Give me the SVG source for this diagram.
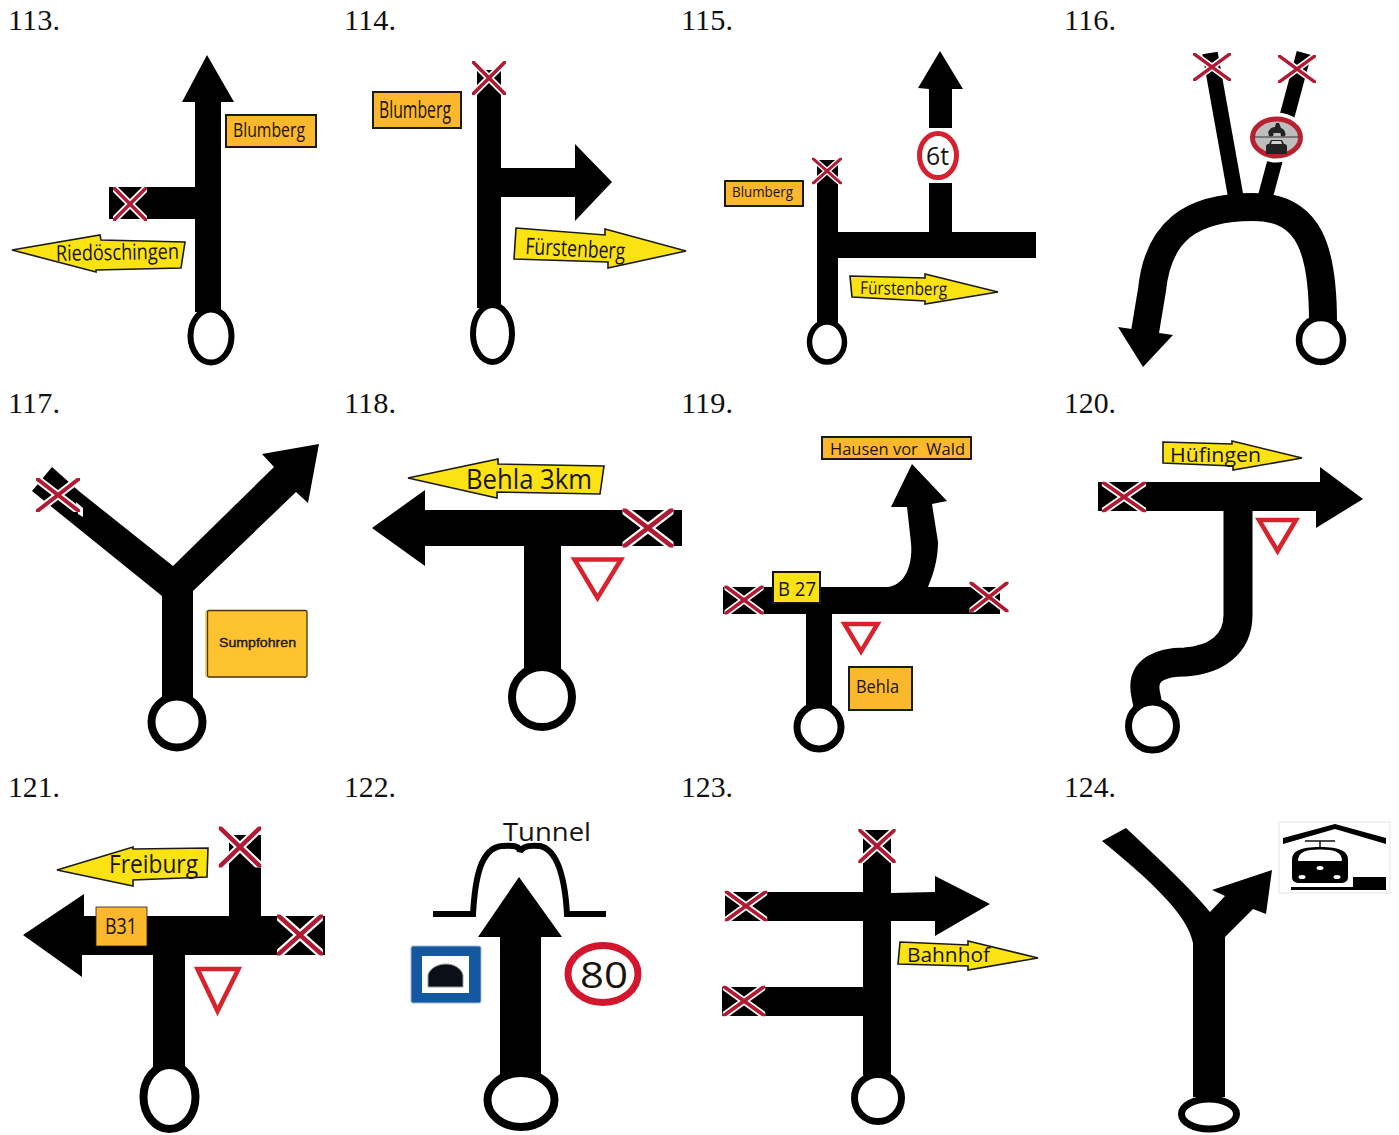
<svg xmlns="http://www.w3.org/2000/svg" width="1399" height="1135" viewBox="0 0 1399 1135">
<style>
.num{font-family:"Liberation Serif","Times New Roman",serif;font-size:30px;fill:#111}
.t{font-family:"Open Sans","Liberation Sans",sans-serif;fill:#1a1410}
.r{fill:#000;stroke:none}
.rl{fill:none;stroke:#000;stroke-linecap:butt}
.ring{fill:#fff;stroke:#000}
.o{fill:#fbb82c;stroke:#1a1a1a;stroke-width:2}
.y{fill:#fbe313;stroke:#1a1a1a;stroke-width:1.6}
.yield{fill:#fff;stroke:#d8222c;stroke-width:4.500;stroke-linejoin:miter}
</style>
<defs>
<clipPath id="xc"><rect x="-17" y="-17" width="34" height="34"/></clipPath>
<g id="x" clip-path="url(#xc)">
<path d="M-21,-21L21,21M21,-21L-21,21" stroke="#fff" stroke-width="7" fill="none"/>
<path d="M-21,-21L21,21M21,-21L-21,21" stroke="#b01a33" stroke-width="3.600" fill="none"/>
</g>
</defs>
<rect width="1399" height="1135" fill="#fff"/>

<g id="labels">
<text class="num" x="8" y="30" textLength="52" lengthAdjust="spacingAndGlyphs">113.</text>
<text class="num" x="344" y="30" textLength="52" lengthAdjust="spacingAndGlyphs">114.</text>
<text class="num" x="681" y="30" textLength="52" lengthAdjust="spacingAndGlyphs">115.</text>
<text class="num" x="1064" y="30" textLength="52" lengthAdjust="spacingAndGlyphs">116.</text>
<text class="num" x="8" y="413" textLength="52" lengthAdjust="spacingAndGlyphs">117.</text>
<text class="num" x="344" y="413" textLength="52" lengthAdjust="spacingAndGlyphs">118.</text>
<text class="num" x="681" y="413" textLength="52" lengthAdjust="spacingAndGlyphs">119.</text>
<text class="num" x="1064" y="413" textLength="52" lengthAdjust="spacingAndGlyphs">120.</text>
<text class="num" x="8" y="797" textLength="52" lengthAdjust="spacingAndGlyphs">121.</text>
<text class="num" x="344" y="797" textLength="52" lengthAdjust="spacingAndGlyphs">122.</text>
<text class="num" x="681" y="797" textLength="52" lengthAdjust="spacingAndGlyphs">123.</text>
<text class="num" x="1064" y="797" textLength="52" lengthAdjust="spacingAndGlyphs">124.</text>
</g>

<g id="fig113">
<polygon class="r" points="207,55 234,102 221,102 221,312 195,312 195,219 109,219 109,187 195,187 195,102 182,102"/>
<ellipse class="ring" cx="211" cy="336" rx="20.500" ry="26.500" stroke-width="6"/>
<use href="#x" transform="translate(130,204)"/>
<rect class="o" x="226" y="115" width="90" height="32"/>
<text class="t" x="233" y="137" font-size="20" textLength="72" lengthAdjust="spacingAndGlyphs">Blumberg</text>
<polygon class="y" points="12,250 100,235 101,240 185,242 181,268 96,270 96,272"/>
<text class="t" x="56" y="261" font-size="22" textLength="123" lengthAdjust="spacingAndGlyphs" transform="rotate(-1 56 261)">Riedöschingen</text>
</g>

<g id="fig114">
<polygon class="r" points="477,70 501,70 501,168 575,168 575,144 612,182 575,221 575,197 501,197 501,308 477,308"/>
<ellipse class="ring" cx="492.500" cy="333.500" rx="19.500" ry="28.500" stroke-width="6"/>
<use href="#x" transform="translate(489,78)"/>
<rect class="o" x="373" y="92" width="88" height="36"/>
<text class="t" x="379" y="118" font-size="23" textLength="72" lengthAdjust="spacingAndGlyphs">Blumberg</text>
<polygon class="y" points="516,228 605,235 605,229 686,251 608,268 608,262 514,259"/>
<text class="t" x="525" y="254" font-size="23" textLength="100" lengthAdjust="spacingAndGlyphs" transform="rotate(3 525 254)">Fürstenberg</text>
</g>

<g id="fig115">
<polygon class="r" points="940,51 963,89 952,89 952,128 929,128 929,89 918,88"/>
<polygon class="r" points="929,183 952,183 952,232 1036,232 1036,258 838,258 838,325 817,325 817,160 838,160 838,232 929,232"/>
<ellipse class="ring" cx="827" cy="342" rx="17.500" ry="20" stroke-width="5.500"/>
<ellipse cx="938" cy="155.500" rx="18.500" ry="22" fill="#fff" stroke="#d4202f" stroke-width="5"/>
<text class="t" x="926" y="165" font-size="25" textLength="23" lengthAdjust="spacingAndGlyphs">6t</text>
<use href="#x" transform="translate(827,171) scale(.88,.78)"/>
<rect class="o" x="725" y="181" width="78" height="25"/>
<text class="t" x="732" y="197" font-size="15" textLength="61" lengthAdjust="spacingAndGlyphs">Blumberg</text>
<polygon class="y" points="850,276 925,278 925,274 998,292 925,304 925,301 852,297"/>
<text class="t" x="860" y="294" font-size="18" textLength="87" lengthAdjust="spacingAndGlyphs" transform="rotate(1 860 294)">Fürstenberg</text>
</g>

<g id="fig116">
<path class="rl" d="M1210,53L1236,198" stroke-width="15.500"/>
<path class="rl" d="M1304,53L1265,198" stroke-width="15"/>
<path class="rl" d="M1323,322C1323,250 1310,207 1253,207C1190,207 1158,232 1152,290L1145,332" stroke-width="28"/>
<polygon class="r" points="1118,327 1173,335 1143,367"/>
<circle class="ring" cx="1321" cy="340" r="22" stroke-width="6.500"/>
<use href="#x" transform="translate(1212,67) scale(1.12,.82)"/>
<use href="#x" transform="translate(1297,69) scale(1.12,.82)"/>
<ellipse cx="1276.500" cy="137.500" rx="30" ry="25" fill="#fff"/>
<ellipse cx="1276.500" cy="137.500" rx="24" ry="18.500" fill="#bdbdbd" stroke="#b8212f" stroke-width="5"/>
<path d="M1254,137H1299" stroke="#333" stroke-width="1"/>
<path d="M1268,133c1-4 4-6 7-6l1-4h3l2 5c3 1 4 3 4 5z" fill="#222"/>
<circle cx="1271" cy="134" r="2.500" fill="#222"/><circle cx="1283" cy="134" r="2.500" fill="#222"/>
<path d="M1266,154v-7c0-3 2-3 3-3l2-4h11l2 4c1 0 3 0 3 3v7z" fill="#222"/>
<path d="M1271,144h11l-1-3h-9z" fill="#cfcfcf"/>
</g>

<g id="fig117">
<polygon class="r" points="32,491 52,467 80,492 173,566 274,467 262,454 319,444 308,503 296,492 193,591 193,700 162,700 162,596"/>
<polygon points="76,502 83,508 83,517 78,514" fill="#fff"/>
<circle class="ring" cx="177" cy="722" r="25.500" stroke-width="8"/>
<use href="#x" transform="translate(58,495) scale(1.3,1)"/>
<rect x="205" y="610" width="102" height="67.500" rx="2" fill="#f2d06a"/>
<rect x="207.500" y="610.500" width="99.500" height="66.500" rx="1.500" fill="#fdc42f" stroke="#4a3410" stroke-width="1.300"/>
<text x="219" y="647" font-family="'Liberation Sans',Arial,sans-serif" font-size="13" fill="#1a1410" stroke="#1a1410" stroke-width=".35" textLength="77" lengthAdjust="spacingAndGlyphs">Sumpfohren</text>
</g>

<g id="fig118">
<polygon class="r" points="372,528 425,490 425,510 682,510 682,546 561,546 561,670 524,670 524,546 425,546 425,566"/>
<circle class="ring" cx="542" cy="697" r="30" stroke-width="8"/>
<use href="#x" transform="translate(648,528) scale(1.5,1.15)"/>
<polygon class="yield" points="574.500,559.500 621,559.500 597.500,598"/>
<polygon class="y" points="408,478 498,459 498,464 604,466 600,494 497,492 497,498"/>
<text class="t" x="466" y="489" font-size="27" textLength="126" lengthAdjust="spacingAndGlyphs">Behla 3km</text>
</g>

<g id="fig119">
<path class="r" d="M723,587H888C905,585 913,565 911,543L907,507H891L912,464L947,501L932,504L938,542C938,560 933,575 928,587H1000V614H832V710H806V614H723Z"/>
<circle class="ring" cx="819" cy="727" r="22" stroke-width="7"/>
<use href="#x" transform="translate(744,600) scale(1.15,.85)"/>
<use href="#x" transform="translate(989,597) scale(1.15,.9)"/>
<rect x="773" y="572" width="47" height="31" fill="#fbe313" stroke="#111" stroke-width="2"/>
<text class="t" x="778" y="596" font-size="20" textLength="38" lengthAdjust="spacingAndGlyphs">B 27</text>
<polygon class="yield" points="844.500,624 877.500,624 861,651.500"/>
<rect class="o" x="849" y="667" width="63" height="43"/>
<text class="t" x="856" y="693" font-size="18" textLength="43" lengthAdjust="spacingAndGlyphs">Behla</text>
<rect class="o" x="822" y="437" width="149" height="22"/>
<text class="t" x="830" y="455" font-size="17" textLength="135" lengthAdjust="spacingAndGlyphs" xml:space="preserve">Hausen vor  Wald</text>
</g>

<g id="fig120">
<polygon class="r" points="1098,482 1320,482 1320,467 1363,499 1316,528 1316,511 1098,511"/>
<path class="rl" d="M1238,510V615C1238,645 1215,660 1185,662C1160,662 1143,670 1145,690C1146,697 1147,700 1148,706" stroke-width="29"/>
<circle class="ring" cx="1152.500" cy="726" r="24" stroke-width="7"/>
<use href="#x" transform="translate(1124,497) scale(1.3,.9)"/>
<polygon class="yield" points="1259,520 1296,520 1277.500,551"/>
<polygon class="y" points="1163,442 1232,444 1232,441 1302,458 1233,470 1233,466 1163,463"/>
<text class="t" x="1170" y="462" font-size="20" textLength="91" lengthAdjust="spacingAndGlyphs">Hüfingen</text>
</g>

<g id="fig121">
<polygon class="r" points="23,935 84,894 84,916 229,916 229,835 261,835 261,916 325,916 325,955 185,955 185,1070 153,1070 153,955 82,955 82,977"/>
<ellipse class="ring" cx="169.500" cy="1097" rx="26" ry="32" stroke-width="8"/>
<use href="#x" transform="translate(240,847) scale(1.25,1.2)"/>
<use href="#x" transform="translate(300,935) scale(1.35,1.2)"/>
<polygon class="yield" points="197.500,969 238.500,969 217.500,1011"/>
<rect x="96" y="907" width="51" height="39" fill="#fbb82c" stroke="#222" stroke-width=".8"/>
<text class="t" x="105" y="934" font-size="22" textLength="32" lengthAdjust="spacingAndGlyphs">B31</text>
<polygon class="y" points="57,870 133,847 133,849 208,848 207,877 133,880 133,886"/>
<text class="t" x="109" y="873" font-size="26" textLength="89" lengthAdjust="spacingAndGlyphs">Freiburg</text>
</g>

<g id="fig122">
<text class="t" x="503" y="841" font-size="26" textLength="88" lengthAdjust="spacingAndGlyphs">Tunnel</text>
<path class="rl" d="M433,914H473C475,880 480,848 502,846C514,845 520,846 520,852C522,846 530,845 540,846C558,850 565,880 567,914H606" stroke-width="6"/>
<polygon class="r" points="519,877 562,937 541,937 541,1080 500,1080 500,937 478,937"/>
<ellipse class="ring" cx="521" cy="1100" rx="33.500" ry="27" stroke-width="8"/>
<rect x="411" y="946" width="70" height="57" rx="2" fill="#14589f" stroke="#9fb8d8" stroke-width="1"/>
<rect x="422" y="956" width="47" height="37" fill="#fff"/>
<path d="M428,987V975C430,968 438,964 446,964C454,964 461,968 463,975V987Z" fill="#0a0f18" stroke="#999" stroke-width="1"/>
<ellipse cx="603" cy="974" rx="35" ry="28.500" fill="#fff" stroke="#d4152e" stroke-width="7"/>
<text class="t" x="580" y="988" font-size="37" textLength="48" lengthAdjust="spacingAndGlyphs">80</text>
</g>

<g id="fig123">
<polygon class="r" points="863,830 891,830 891,893 935,892 935,876 990,904 935,936 935,921 891,921 891,1075 863,1075 863,1016 722,1016 722,987 863,987 863,921 725,921 725,892 863,892"/>
<circle class="ring" cx="878" cy="1098" r="23.500" stroke-width="7"/>
<use href="#x" transform="translate(877,846) scale(1.1,1)"/>
<use href="#x" transform="translate(746,906) scale(1.25,.9)"/>
<use href="#x" transform="translate(744,1001) scale(1.25,.9)"/>
<polygon class="y" points="900,942 968,945 968,941 1038,958 968,970 968,966 898,964"/>
<text class="t" x="907" y="962" font-size="20" textLength="83" lengthAdjust="spacingAndGlyphs">Bahnhof</text>
</g>

<g id="fig124">
<path class="r" d="M1102,841L1126,828C1160,860 1190,888 1210,912L1225,896L1212,890L1272,870L1266,914L1253,909L1225,937V1097H1193V943C1188,915 1150,880 1102,841Z"/>
<ellipse class="ring" cx="1209" cy="1114" rx="27.500" ry="15" stroke-width="7"/>
<rect x="1279" y="822" width="111" height="71" fill="#fff" stroke="#eee" stroke-width="1.500"/>
<path d="M1283,838L1335,824L1386,838V844L1335,829L1283,844Z" fill="#000"/>
<path d="M1305,841H1335M1320,841V847" stroke="#111" stroke-width="1.500"/>
<path d="M1292,860C1292,851 1300,847 1320,847C1340,847 1348,851 1348,860V877C1348,881 1345,883 1340,883H1300C1295,883 1292,881 1292,877Z" fill="#000"/>
<path d="M1298,861C1298,852 1305,849.500 1320,849.500C1335,849.500 1342,852 1342,861Z" fill="#fff"/>
<ellipse cx="1302" cy="877" rx="3.500" ry="2" fill="#fff"/>
<ellipse cx="1320" cy="868" rx="3.500" ry="2" fill="#fff"/>
<ellipse cx="1337" cy="877" rx="3.500" ry="2" fill="#fff"/>
<rect x="1291" y="887" width="65" height="3" fill="#000"/>
<rect x="1353" y="877" width="33" height="13" fill="#000"/>
</g>
</svg>
